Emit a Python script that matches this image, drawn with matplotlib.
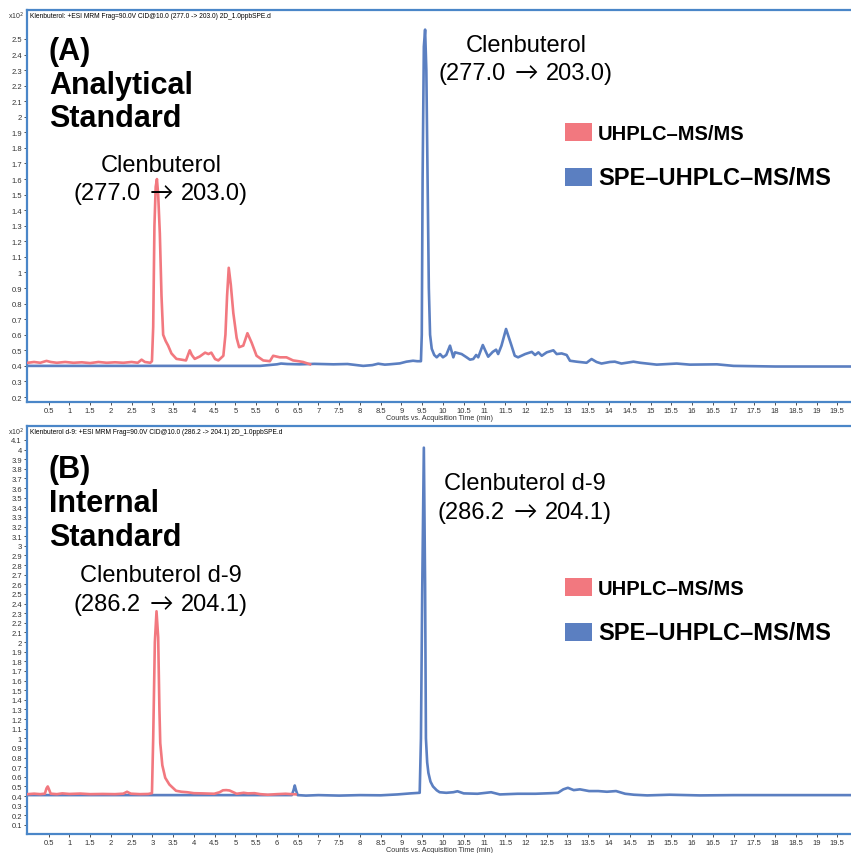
import numpy as np
import matplotlib
matplotlib.use('Agg')
import matplotlib.pyplot as plt
from matplotlib.patches import Rectangle
from matplotlib.ticker import FuncFormatter

plt.rcParams['font.family'] = ['Liberation Sans', 'DejaVu Sans']

# (A) clenbuterol, 277.0 -> 203.0
t_a_uhplc = [0.0, 0.15, 0.3, 0.45, 0.55, 0.7, 0.9, 1.1, 1.3, 1.5, 1.7, 1.9, 2.1, 2.3, 2.5, 2.65,
             2.74, 2.82, 2.95, 2.99, 3.02, 3.05, 3.08, 3.11, 3.14, 3.18, 3.22, 3.26, 3.32, 3.38,
             3.46, 3.58, 3.70, 3.81, 3.90, 3.95, 4.02, 4.14, 4.27, 4.35, 4.42, 4.51, 4.59, 4.71,
             4.76, 4.80, 4.84, 4.89, 4.95, 5.03, 5.09, 5.19, 5.29, 5.39, 5.51, 5.67, 5.83, 5.91,
             6.07, 6.23, 6.39, 6.52, 6.63, 6.80]
i_a_uhplc = [0.42, 0.425, 0.42, 0.432, 0.425, 0.42, 0.425, 0.42, 0.423, 0.418, 0.425, 0.42, 0.423,
             0.42, 0.425, 0.42, 0.44, 0.425, 0.42, 0.43, 0.65, 1.3, 1.55, 1.60, 1.50, 1.25, 0.85,
             0.60, 0.56, 0.53, 0.48, 0.445, 0.44, 0.435, 0.50, 0.47, 0.445, 0.46, 0.485, 0.476,
             0.485, 0.444, 0.435, 0.465, 0.60, 0.85, 1.03, 0.92, 0.74, 0.58, 0.52, 0.53, 0.61,
             0.55, 0.465, 0.435, 0.43, 0.465, 0.455, 0.455, 0.435, 0.43, 0.425, 0.41]

t_a_spe = [0.0, 1.0, 2.0, 3.0, 4.0, 5.0, 5.6, 6.0, 6.1, 6.25, 6.55, 6.9, 7.36, 7.7, 8.08, 8.3, 8.44,
           8.6, 8.71, 8.96, 9.12, 9.28, 9.38, 9.47, 9.49, 9.51, 9.54, 9.57, 9.60, 9.63, 9.66,
           9.69, 9.73, 9.79, 9.85, 9.93, 10.0, 10.08, 10.17, 10.25, 10.29, 10.45, 10.57, 10.65,
           10.73, 10.8, 10.85, 10.96, 11.04, 11.09, 11.2, 11.28, 11.33, 11.41, 11.52, 11.64,
           11.73, 11.81, 11.98, 12.14, 12.22, 12.3, 12.38, 12.5, 12.66, 12.74, 12.86, 12.98,
           13.06, 13.22, 13.46, 13.58, 13.7, 13.82, 14.02, 14.14, 14.3, 14.59, 14.75, 15.15,
           15.63, 15.95, 16.6, 17.0, 18.0, 19.0, 19.85]
i_a_spe = [0.40, 0.40, 0.40, 0.40, 0.40, 0.40, 0.40, 0.41, 0.415, 0.412, 0.41, 0.413, 0.41, 0.412,
           0.40, 0.405, 0.414, 0.408, 0.41, 0.416, 0.427, 0.433, 0.43, 0.43, 0.6, 1.6, 2.45, 2.56,
           2.3, 1.6, 0.9, 0.6, 0.51, 0.47, 0.455, 0.476, 0.455, 0.47, 0.53, 0.455, 0.487, 0.476,
           0.455, 0.44, 0.444, 0.47, 0.455, 0.534, 0.487, 0.459, 0.49, 0.504, 0.476, 0.53, 0.637,
           0.54, 0.465, 0.455, 0.476, 0.49, 0.47, 0.487, 0.465, 0.487, 0.5, 0.476, 0.48, 0.47,
           0.433, 0.427, 0.42, 0.444, 0.425, 0.415, 0.425, 0.427, 0.415, 0.427, 0.42, 0.408,
           0.415, 0.408, 0.41, 0.40, 0.396, 0.396, 0.396]

# (B) clenbuterol d-9, 286.2 -> 204.1
t_b_uhplc = [0.0, 0.15, 0.3, 0.41, 0.45, 0.48, 0.51, 0.55, 0.7, 0.83, 1.0, 1.26, 1.5, 1.8, 2.1, 2.3,
             2.39, 2.48, 2.7, 2.9, 2.99, 3.02, 3.06, 3.10, 3.14, 3.17, 3.19, 3.24, 3.31, 3.41,
             3.57, 3.7, 3.84, 4.0, 4.2, 4.49, 4.62, 4.7, 4.78, 4.86, 4.95, 5.03, 5.2, 5.3, 5.46,
             5.6, 5.78, 6.0, 6.21, 6.35, 6.45]
i_b_uhplc = [0.42, 0.425, 0.42, 0.425, 0.48, 0.50, 0.47, 0.425, 0.42, 0.428, 0.422, 0.426, 0.42,
             0.422, 0.42, 0.425, 0.445, 0.425, 0.42, 0.422, 0.43, 1.0, 2.0, 2.32, 2.05, 1.3, 0.95,
             0.72, 0.59, 0.52, 0.455, 0.445, 0.44, 0.43, 0.428, 0.424, 0.44, 0.46, 0.462, 0.458,
             0.44, 0.424, 0.434, 0.428, 0.43, 0.42, 0.414, 0.42, 0.424, 0.42, 0.418]

t_b_spe = [0.0, 1.0, 2.0, 3.0, 4.0, 5.0, 6.0, 6.36, 6.40, 6.43, 6.46, 6.50, 6.7, 7.0, 7.5, 8.0,
           8.5, 8.9, 9.22, 9.44, 9.47, 9.50, 9.54, 9.57, 9.59, 9.62, 9.65, 9.70, 9.76, 9.85,
           9.92, 10.08, 10.25, 10.35, 10.5, 10.83, 11.16, 11.37, 11.8, 12.23, 12.6, 12.77, 12.9,
           13.01, 13.15, 13.3, 13.52, 13.74, 13.95, 14.17, 14.39, 14.6, 14.92, 15.46, 16.19,
           17.0, 18.0, 19.0, 19.85]
i_b_spe = [0.41, 0.41, 0.41, 0.41, 0.41, 0.41, 0.41, 0.41, 0.46, 0.51, 0.46, 0.41, 0.405, 0.41,
           0.405, 0.41, 0.408, 0.417, 0.428, 0.434, 1.0, 2.5, 4.02, 2.6, 1.0, 0.75, 0.64, 0.55,
           0.5, 0.46, 0.44, 0.434, 0.44, 0.45, 0.428, 0.424, 0.44, 0.417, 0.424, 0.424, 0.43,
           0.434, 0.47, 0.486, 0.462, 0.47, 0.452, 0.452, 0.445, 0.452, 0.424, 0.414, 0.407,
           0.414, 0.407, 0.41, 0.41, 0.41, 0.41]

RED = '#f2787f'
BLUE = '#5b7fc1'
FRAME = '#4a86c8'
W, H = 851, 854


def fx(x):
    return x / W


def fy(y):
    return 1 - y / H


fig = plt.figure(figsize=(8.51, 8.54), dpi=100)

ax1 = fig.add_axes([fx(27), fy(403), fx(851 - 27), (403 - 11) / H])
ax2 = fig.add_axes([fx(27), fy(835), fx(851 - 27), (835 - 427) / H])

fmt = FuncFormatter(lambda v, p: f'{round(v, 1):g}')

panels = [
    (ax1, t_a_uhplc, i_a_uhplc, t_a_spe, i_a_spe, (0.168, 2.686), np.arange(0.2, 2.55, 0.1),
     'Klenbuterol: +ESI MRM Frag=90.0V CID@10.0 (277.0 -> 203.0) 2D_1.0ppbSPE.d'),
    (ax2, t_b_uhplc, i_b_uhplc, t_b_spe, i_b_spe, (0.006, 4.245), np.arange(0.1, 4.15, 0.1),
     'Klenbuterol d-9: +ESI MRM Frag=90.0V CID@10.0 (286.2 -> 204.1) 2D_1.0ppbSPE.d'),
]

for ax, tr, ir, tb, ib, ylim, yt, head in panels:
    ax.plot(tb, ib, color=BLUE, lw=1.9, solid_joinstyle='round', zorder=2)
    ax.plot(tr, ir, color=RED, lw=1.9, solid_joinstyle='round', zorder=3)
    ax.set_xlim(-0.02, 19.83)
    ax.set_ylim(*ylim)
    ax.set_xticks(np.arange(0.5, 19.6, 0.5))
    ax.set_yticks(yt)
    ax.xaxis.set_major_formatter(fmt)
    ax.yaxis.set_major_formatter(fmt)
    ax.tick_params(labelsize=5.5, length=2.5, width=0.6, pad=1.2, colors='#333333')
    ax.set_xlabel('Counts vs. Acquisition Time (min)', fontsize=5.2, labelpad=0, color='#333333')
    ax.spines['right'].set_visible(False)
    for s in ['left', 'top', 'bottom']:
        ax.spines[s].set_color(FRAME)
        ax.spines[s].set_linewidth(1.6)
    ax.text(0.004, 0.995, head, transform=ax.transAxes, fontsize=4.8, va='top', ha='left')

# headers x10^2
fig.text(fx(8), fy(16), r'x10$^2$', fontsize=5, va='center', ha='left', color='#333333')
fig.text(fx(8), fy(432), r'x10$^2$', fontsize=5, va='center', ha='left', color='#333333')

# panel labels
for lines, ys in [(['(A)', 'Analytical', 'Standard'], [60, 94, 127]),
                  (['(B)', 'Internal', 'Standard'], [478, 512, 546])]:
    for s, y in zip(lines, ys):
        fig.text(fx(49), fy(y), s, fontsize=22, fontweight='bold', va='baseline', ha='left')

# peak annotations: name, precursor, product, centre x, baselines
notes = [('Clenbuterol', '277.0', '203.0', 526, 52, 80),
         ('Clenbuterol', '277.0', '203.0', 161, 172, 200),
         ('Clenbuterol d-9', '286.2', '204.1', 525, 490, 519),
         ('Clenbuterol d-9', '286.2', '204.1', 161, 582, 611)]
for name, pre, prod, x, y1, y2 in notes:
    fig.text(fx(x), fy(y1), name, fontsize=17, va='baseline', ha='center')
    fig.text(fx(x - 20), fy(y2), '(' + pre, fontsize=17, va='baseline', ha='right')
    fig.text(fx(x), fy(y2), '\u2192', fontsize=17, va='baseline', ha='center', family=['Lato', 'DejaVu Sans'])
    fig.text(fx(x + 20), fy(y2), prod + ')', fontsize=17, va='baseline', ha='left')

# legends
for y0 in [124, 579]:
    for k, (lab, col, fs) in enumerate([('UHPLC\u2013MS/MS', RED, 14.5),
                                        ('SPE\u2013UHPLC\u2013MS/MS', BLUE, 17)]):
        yy = y0 + 45 * k
        fig.add_artist(Rectangle((fx(565), fy(yy + 18)), 27 / W, 18 / H, transform=fig.transFigure,
                                 facecolor=col, edgecolor='none'))
        fig.text(fx(598), fy(yy + 16), lab, fontsize=fs, fontweight='bold', va='baseline', ha='left')

fig.savefig('out.png', dpi=100)
